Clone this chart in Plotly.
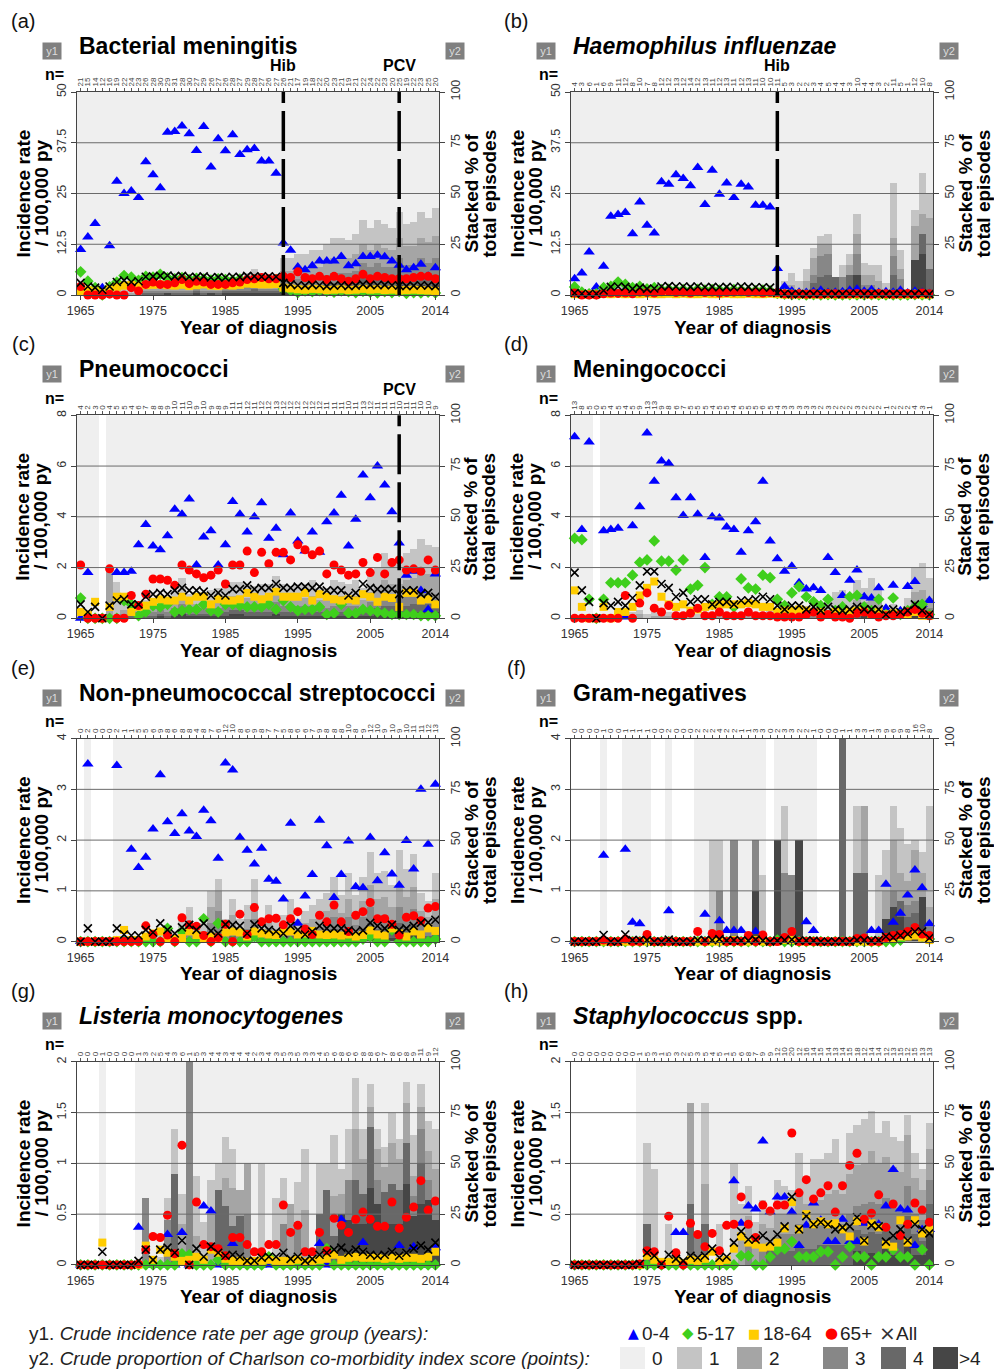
import plotly.graph_objects as go

W, H = 994, 1369
years = list(range(1965, 2015))

# ---------------- (a) Bacterial meningitis ----------------
n_a = [21,15,14,12,16,19,22,24,23,26, 28,30,29,31,28,30,27,29,26,27,
       26,28,27,29,28,27,26,27,26,21, 17,19,18,22,20,23,21,19,21,22,
       24,22,23,20,25,19,22,23,25,20]
a_04 = [11.2,14.3,17.6,1.8,12.1,28.0,25.0,25.6,24.0,32.8, 29.6,26.4,40.1,40.3,41.6,39.7,35.6,41.5,31.5,38.5,
        35.5,39.5,34.6,35.8,36.1,33.0,33.0,30.0,12.8,11.0, 6.9,6.2,7.2,8.4,8.4,8.4,9.5,7.2,7.7,9.5,
        9.5,9.8,9.4,8.4,7.3,6.2,6.7,7.6,4.6,6.7]
a_517 = [5.7,3.4,1.8,0.0,2.0,3.2,4.8,4.4,3.6,4.6, 4.4,5.1,4.2,4.0,4.3,3.8,4.1,3.9,3.7,4.0,
         3.8,3.6,3.9,3.5,3.7,3.6,3.4,3.8,1.5,1.2, 0.6,1.0,0.8,1.1,0.9,0.7,1.0,0.8,0.6,0.9,
         0.7,0.5,0.8,0.6,0.9,0.4,0.6,0.5,0.7,0.5]
a_1864 = [1.0,1.2,0.9,0.5,1.4,2.0,2.3,2.5,2.2,2.4, 2.5,2.6,2.4,2.3,2.5,2.2,2.4,2.6,2.3,2.2,
          2.4,2.3,2.5,2.8,2.7,2.6,2.6,2.7,1.8,1.6, 1.4,1.3,1.5,1.4,1.2,1.3,1.4,1.2,1.3,1.5,
          1.3,1.4,1.2,1.3,1.1,1.2,1.3,1.2,1.1,1.0]
a_65 = [2.1,0.0,0.0,0.0,0.2,0.0,0.0,1.8,1.0,2.6, 3.2,2.6,2.6,3.0,3.8,2.8,3.4,3.2,2.6,2.6,
        2.6,3.0,3.2,3.8,4.0,4.3,4.0,4.0,4.6,4.3, 5.7,4.3,4.0,4.6,3.8,4.6,4.0,3.4,4.0,5.1,
        4.0,4.6,4.3,4.0,4.0,4.0,4.3,4.6,4.6,4.0]
a_all = [3.0,2.1,1.8,1.3,2.1,3.2,3.6,3.2,3.4,4.5, 4.6,4.7,4.8,4.6,4.7,4.5,4.4,4.6,4.3,4.4,
         4.3,4.5,4.4,4.7,4.6,4.5,4.6,4.5,3.0,2.6, 2.4,2.3,2.5,2.4,2.2,2.3,2.4,2.2,2.3,2.6,
         2.5,2.4,2.5,2.4,2.3,2.2,2.3,2.4,2.3,2.2]
a_c1 = [2,2,1,0,2,2,1,2,2,2, 2,2,2,3,3,3,3,3,3,3, 3,4,4,4,5,4,4,4,6,6, 7,7,8,8,9,10,10,9,10,12, 11,12,12,11,13,11,12,13,12,14]
a_c2 = [1,1,1,0,1,1,1,1,1,1, 1,2,2,2,2,2,2,2,2,2, 2,2,2,3,3,2,2,3,5,5, 5,5,6,6,6,7,7,7,8,9, 8,9,9,8,10,9,9,10,10,11]
a_c3 = [0,0,0,0,0,0,1,0,1,1, 1,1,1,1,1,1,1,1,1,1, 1,1,1,2,2,1,1,1,3,3, 4,4,4,4,5,5,5,5,5,7, 6,7,6,6,8,6,7,8,7,8]
a_c4 = [0,0,0,0,0,0,0,0,0,1, 1,1,0,1,1,1,1,1,0,1, 1,1,1,1,2,1,1,1,2,2, 2,2,2,2,3,3,3,3,4,5, 4,5,4,4,5,5,4,5,5,5]
a_c5 = [0,0,0,0,0,0,0,0,0,0, 0,0,1,0,0,0,1,0,1,0, 1,1,1,1,1,1,1,1,2,2, 2,2,2,2,2,3,3,3,3,4, 4,4,4,4,5,4,4,5,4,5]

# ---------------- (b) Haemophilus influenzae ----------------
n_b = [4,3,6,1,6,9,11,12,8,10, 7,8,12,12,13,12,14,12,13,11, 12,13,11,12,13,11,10,10,11,5,
       3,2,2,3,4,5,4,4,3,10, 4,4,3,2,11,5,1,12,10,8]
b_04 = [4.0,5.4,10.6,2.0,7.1,19.4,19.8,20.3,15.1,22.9, 17.2,15.3,27.9,27.3,29.6,28.7,26.9,31.4,22.3,30.7,
        24.8,27.6,24.0,27.3,26.6,22.1,22.1,21.7,6.5,2.1, 1.0,0.7,0.6,0.8,1.2,0.6,0.7,0.8,1.2,1.4,
        0.9,1.3,0.6,0.8,0.7,1.2,0.5,0.9,0.6,0.4]
b_517 = [2.0,0.7,0.3,0.3,1.8,2.1,3.2,2.6,1.8,2.1, 1.5,1.8,1.3,1.4,1.2,1.3,1.1,1.4,1.2,1.3,
         1.2,1.1,1.3,1.2,1.0,1.1,1.2,1.0,0.4,0.2, 0.1,0.1,0.0,0.1,0.0,0.1,0.0,0.0,0.1,0.0,
         0.0,0.1,0.0,0.0,0.0,0.0,0.0,0.1,0.0,0.0]
b_1864 = [0.2,0.1,0.2,0.1,0.3,0.2,0.3,0.2,0.3,0.2, 0.3,0.2,0.2,0.3,0.2,0.3,0.2,0.2,0.3,0.2,
          0.2,0.3,0.2,0.2,0.3,0.2,0.2,0.3,0.2,0.1, 0.1,0.1,0.1,0.1,0.1,0.1,0.1,0.1,0.1,0.1,
          0.1,0.1,0.1,0.1,0.1,0.1,0.1,0.1,0.1,0.1]
b_65 = [0.5,0.0,0.0,0.0,0.3,0.5,0.4,0.5,0.3,0.7, 0.6,0.5,0.8,0.9,0.6,0.7,0.5,0.8,0.6,0.7,
        0.5,0.6,0.7,0.8,0.6,0.7,0.5,0.6,0.6,0.3, 0.2,0.3,0.2,0.3,0.2,0.4,0.3,0.2,0.3,0.4,
        0.3,0.2,0.4,0.3,0.2,0.3,0.4,0.2,0.5,0.3]
b_all = [0.5,0.3,0.3,0.3,1.1,2.0,2.1,2.0,1.5,1.8, 1.5,1.6,2.1,2.2,2.1,2.1,2.0,2.1,1.9,2.0,
         1.9,2.0,1.9,2.1,2.0,1.9,1.9,1.8,0.5,0.3, 0.2,0.2,0.2,0.2,0.3,0.2,0.2,0.2,0.3,0.3,
         0.2,0.3,0.2,0.2,0.2,0.3,0.2,0.2,0.3,0.2]
b_c1 = [2,1,2,0,2,2,3,3,2,2, 2,2,2,2,2,2,2,2,2,2, 2,2,2,2,2,2,2,2,2,7, 6,7,6,5,4,5,0,6,5,10, 6,5,8,6,27,9,0,8,20,12]
b_c2 = [1,1,0,0,1,1,2,2,1,1, 1,1,1,1,1,1,1,1,1,1, 1,1,1,1,1,1,1,1,1,0, 5,0,7,8,6,5,0,0,5,10, 5,5,7,0,9,5,0,17,10,25]
b_c3 = [0,0,0,0,0,0,1,1,0,0, 0,0,0,0,1,0,0,0,0,0, 0,0,0,1,0,0,0,0,0,0, 0,0,0,4,10,10,0,9,0,10, 5,5,0,0,9,8,0,0,0,0]
b_c4 = [0,0,0,0,0,0,0,0,0,0, 0,0,0,0,0,0,0,0,0,0, 0,0,0,0,0,0,0,0,0,0, 0,0,0,6,9,10,9,0,10,0, 0,0,0,0,10,0,0,0,10,13]
b_c5 = [0,0,0,0,0,0,0,0,0,0, 0,0,0,0,0,0,0,0,0,0, 0,0,0,0,0,0,0,0,0,0, 0,0,0,0,0,0,0,0,0,10, 0,0,0,0,0,0,0,17,20,0]

# ---------------- (c) Pneumococci ----------------
n_c = [4,2,3,0,4,5,5,4,6,7, 8,8,9,10,11,10,9,10,9,8, 9,11,11,12,11,12,12,13,12,12,
       12,12,12,12,11,11,11,10,11,13, 12,11,11,11,10,11,11,10,10,9]
c_04 = [0.0,1.8,0.0,0.0,0.0,1.8,1.8,1.85,2.9,3.7, 2.85,2.7,3.25,4.3,4.1,4.7,2.1,3.2,3.45,2.1,
        2.9,4.6,4.1,3.4,4.0,4.55,3.15,3.55,2.5,4.15, 3.05,2.65,3.4,2.6,3.8,4.15,4.85,2.85,3.9,5.65,
        4.75,6.0,5.25,4.2,2.97,1.7,1.85,1.1,0.35,1.75]
c_517 = [0.8,0,0,0,0,0,0.7,0.55,0.1,0.25, 0.5,0.45,0.55,0.25,0.3,0.35,0.35,0.55,0.3,0.25,
         0.55,0.55,0.5,0.45,0.45,0.45,0.55,0.35,0.7,0.45, 0.3,0.35,0.35,0.45,0.15,0.2,0.55,0.2,0.2,0.35,
         0.3,0.25,0.2,0.15,0.15,0.15,0.15,0.1,0.1,0.1]
c_1864 = [0.25,0.15,0.65,0.0,0.45,0.85,0.85,0.25,0.45,0.5, 0.65,0.75,0.7,0.7,0.85,0.7,0.85,0.85,0.55,0.75,
          0.7,0.7,0.75,1.0,0.85,0.75,0.85,1.05,0.85,0.85, 0.85,1.0,0.7,0.95,0.85,0.75,0.7,0.75,0.7,0.95,
          0.85,0.65,0.85,0.8,0.45,1.0,1.0,0.7,0.75,0.55]
c_65 = [2.1,0,0,0,1.95,0,0,0.9,0.5,0.95, 1.55,1.55,1.5,1.3,2.1,1.9,1.75,1.6,1.7,1.9,
        1.35,2.1,2.1,2.65,1.8,2.6,2.15,2.6,2.6,2.3, 2.9,2.7,2.5,2.65,1.75,2.1,1.9,1.7,1.75,2.2,
        1.8,2.4,1.75,2.2,2.3,1.9,1.95,1.85,2.3,1.9]
c_all = [0.55,0.25,0.45,0.0,0.5,0.7,0.75,0.55,0.55,0.85, 0.95,1.0,0.95,1.1,1.2,1.1,1.1,1.05,0.9,1.0,
         0.9,1.15,1.15,1.3,1.15,1.2,1.2,1.35,1.2,1.2, 1.25,1.25,1.2,1.25,1.1,1.1,1.1,0.9,1.0,1.35,
         1.2,1.15,1.15,1.15,0.95,1.1,1.1,0.95,1.0,0.85]
c_c1 = [3,0,0,0,0,18,3,3,3,4, 4,4,4,6,8,5,5,5,6,6, 8,7,7,7,6,7,7,8,7,6, 7,7,8,6,6,8,7,7,8,6, 9,10,13,11,11,13,14,16,14,14]
c_c2 = [0,0,0,0,25,0,2,2,2,2, 3,3,3,3,5,3,3,3,3,4, 5,4,4,4,4,4,4,5,4,4, 4,4,5,4,4,5,5,4,5,4, 5,6,8,7,7,8,8,10,9,9]
c_c3 = [0,0,0,0,0,0,1,1,2,2, 2,2,2,3,3,2,2,3,3,3, 3,3,3,3,3,3,3,4,3,3, 3,3,3,2,2,3,3,3,3,2, 4,4,5,4,4,5,5,6,6,5]
c_c4 = [0,0,0,0,0,0,1,1,1,1, 1,1,1,1,2,1,1,1,1,1, 2,2,2,2,2,2,2,2,2,2, 2,2,2,2,2,2,2,2,2,2, 3,3,4,3,3,3,4,4,4,4]
c_c5 = [0,0,0,0,0,0,0,0,0,0, 0,1,0,1,2,1,1,1,1,1, 1,2,2,1,1,1,1,2,1,1, 1,1,1,1,1,1,1,1,1,1, 1,2,2,3,3,3,3,3,3,3]

# ---------------- (d) Meningococci ----------------
n_d = [13,8,5,0,5,4,5,4,5,9, 13,13,9,8,6,7,5,5,5,4, 5,5,4,5,5,5,6,5,4,3,
       3,3,3,3,2,3,2,2,2,3, 2,2,2,1,2,2,2,4,3,1]
d_04 = [7.15,3.5,6.95,0.0,3.45,3.5,3.55,0.05,3.65,4.4, 7.3,5.4,6.2,6.1,4.75,4.05,4.75,4.1,2.4,4.0,
        3.95,3.6,3.5,2.6,3.45,3.8,5.4,3.05,2.35,1.85, 2.05,1.4,1.15,1.2,1.1,2.4,1.8,0.9,1.5,1.9,
        0.85,0.8,1.2,0.4,1.3,0.3,1.25,1.45,0.55,0.7]
d_517 = [3.15,3.1,0.75,0.0,0.75,1.4,1.4,1.4,1.7,2.2, 2.3,3.05,2.25,2.25,1.9,2.3,1.15,1.3,2.0,0.55,
         0.85,0.85,0.45,1.55,1.2,1.15,1.7,1.6,0.75,0.5, 1.0,1.25,0.85,0.65,0.5,0.75,0.3,0.45,0.85,0.9,
         0.45,0.3,0.75,0.15,0.8,0.15,0.3,0.45,0.55,0.15]
d_1864 = [1.1,0.45,0.0,0.0,0.45,0.0,0.25,0.25,0.45,0.9, 1.2,1.45,0.85,0.55,0.45,0.55,0.3,0.35,0.45,0.5,
          0.55,0.55,0.55,0.55,0.6,0.55,0.45,0.45,0.25,0.3, 0.3,0.35,0.3,0.25,0.25,0.15,0.25,0.15,0.25,0.3,
          0.25,0.15,0.25,0.15,0.2,0.15,0.15,0.25,0.1,0.1]
d_65 = [0,0,0,0,0,0,0,0.9,0,0.6, 1.0,0.4,0.25,0.5,0.1,0.1,0.2,0.4,0.1,0.1,
        0.25,0.1,0.1,0.1,0.25,0.1,0.1,0.1,0.05,0.05, 0.05,0.05,0.15,0.25,0.05,0.15,0.05,0.05,0.0,0.2,
        0.25,0.15,0.05,0.1,0.1,0.15,0.25,0.35,0.2,0.1]
d_all = [1.8,1.1,0.65,0.0,0.6,0.5,0.65,0.5,0.8,1.3, 1.85,1.85,1.35,1.2,0.85,1.0,0.65,0.75,0.75,0.55,
         0.65,0.65,0.55,0.7,0.7,0.75,0.85,0.75,0.5,0.35, 0.5,0.5,0.35,0.45,0.3,0.45,0.35,0.3,0.35,0.45,
         0.35,0.35,0.35,0.15,0.35,0.25,0.3,0.55,0.3,0.15]
d_c1 = [0,0,0,0,0,0,0,3,3,2, 2,2,3,2,2,2,2,2,2,2, 2,2,2,2,2,2,2,2,2,2, 2,3,3,3,3,4,7,7,5,10, 7,10,7,3,4,2,5,12,13,10]
d_c2 = [0,0,0,0,0,0,0,0,0,2, 0,1,2,1,0,0,0,0,1,0, 1,0,0,1,1,1,1,1,1,1, 1,1,2,1,2,2,3,4,3,5, 4,5,4,2,2,2,3,7,7,5]
d_c3 = [0,0,0,0,0,0,0,0,0,0, 0,0,0,0,0,0,0,0,0,0, 0,0,0,0,0,0,0,1,0,1, 1,1,1,1,1,1,2,2,1,3, 2,3,2,0,1,0,1,3,4,3]
d_c4 = [0,0,0,0,0,0,0,0,0,0, 0,0,0,0,0,0,0,0,0,0, 0,0,0,0,0,0,0,0,0,0, 0,0,0,0,0,1,1,1,1,1, 1,1,1,0,0,0,1,2,2,1]
d_c5 = [0,0,0,0,0,0,0,0,0,0, 0,0,0,0,0,0,0,0,0,0, 0,0,0,0,0,0,0,0,0,0, 0,0,0,0,0,0,0,0,0,0, 1,1,1,0,0,0,0,1,1,1]

# ---------------- (e) Non-pneumococcal streptococci ----------------
n_e = [0,2,0,0,0,2,1,1,5,5, 6,9,8,6,8,8,4,8,7,6, 12,10,8,6,9,8,7,7,5,8,
       6,6,7,9,8,8,8,10,8,9, 12,10,9,10,9,10,11,11,12,13]
e_04 = [0,3.5,0,0,0,3.47,0.05,1.82,1.46,1.66, 2.22,3.29,2.36,2.13,2.52,2.18,2.07,2.59,2.38,1.64,
        3.52,3.38,2.05,1.8,1.53,1.84,1.23,1.19,0.84,2.33, 0.36,0.9,1.32,2.39,1.89,0.87,1.32,1.98,1.08,1.06,
        2.05,1.2,1.75,1.33,1.11,1.99,1.43,3.0,1.92,3.1]
e_517 = [0,0,0,0,0,0,0,0,0,0, 0,0,0.26,0,0.2,0,0,0.45,0,0.36,
         0,0,0,0,0.1,0,0,0,0,0, 0,0,0,0,0,0,0,0,0,0.05,
         0.1,0,0,0.23,0,0,0,0,0,0.05]
e_1864 = [0,0,0,0,0,0.03,0.23,0.03,0.03,0.1, 0.16,0.2,0.07,0.05,0.07,0.2,0.13,0.07,0.1,0.05,
          0.18,0.2,0.18,0.1,0.2,0.16,0.14,0.13,0.2,0.2, 0.14,0.16,0.21,0.14,0.13,0.14,0.12,0.14,0.1,0.13,
          0.22,0.14,0.12,0.26,0.16,0.1,0.2,0.14,0.26,0.21]
e_65 = [0,0,0,0,0,0,0,0,0,0.31, 0.14,0,0.13,0,0.47,0.33,0.3,0.12,0,0.08,
        0.34,0,0.54,0.14,0.67,0.39,0.45,0.46,0.33,0.45, 0.59,0.25,0.14,0.52,0.39,0.72,0.39,0.2,0.52,0.59,
        0.77,0.45,0.45,0.34,0.13,0.48,0.51,0.41,0.66,0.69]
e_all = [0,0.26,0,0,0,0.26,0.14,0.12,0.12,0.23, 0.18,0.36,0.23,0.16,0.28,0.33,0.23,0.36,0.21,0.16,
         0.34,0.33,0.31,0.16,0.34,0.26,0.23,0.2,0.16,0.31, 0.23,0.14,0.2,0.31,0.26,0.26,0.26,0.22,0.2,0.22,
         0.37,0.31,0.26,0.33,0.23,0.26,0.31,0.37,0.38,0.43]
e_c1 = [0,0,0,0,0,0,0,0,2,2, 3,3,4,3,5,7,4,4,8,6, 5,8,5,7,12,5,7,5,5,8, 5,6,7,8,9,12,9,13,9,12, 16,13,13,11,17,14,16,9,8,13]
e_c2 = [0,0,0,0,0,0,0,0,0,2, 2,2,2,2,3,5,3,3,8,10, 3,6,3,5,8,3,5,3,4,6, 3,4,5,6,6,8,6,9,6,8, 11,9,9,7,11,9,11,6,5,9]
e_c3 = [0,0,0,0,0,0,0,0,0,0, 0,0,2,0,3,3,0,2,5,10, 3,4,3,3,6,3,3,3,2,4, 2,3,3,4,5,6,4,6,4,6, 8,6,6,5,8,6,8,4,4,6]
e_c4 = [0,0,0,0,0,0,0,0,0,0, 0,0,0,0,0,2,0,0,4,5, 0,3,0,3,5,0,3,0,2,3, 1,2,3,3,4,4,4,4,4,4, 5,3,4,3,5,4,4,5,3,4]
e_c5 = [0,0,0,0,0,0,0,0,0,0, 0,0,0,0,0,0,0,0,0,0, 0,0,0,0,0,0,0,0,0,0, 0,0,0,0,0,2,0,2,0,2, 4,3,3,2,4,3,4,0,0,2]

# ---------------- (f) Gram-negatives ----------------
n_f = [0,0,0,0,1,0,0,1,1,1, 1,0,0,2,0,0,0,2,2,2, 4,2,2,1,1,3,3,0,2,3,
       3,2,2,1,0,0,0,1,1,3, 3,1,3,9,6,9,8,16,10,8]
f_04 = [0,0,0,0,1.7,0,0,1.82,0.38,0.35, 0,0,0,0.61,0,0,0,0,0.54,0,
        0.41,0.22,0.22,0.22,0,0.2,0,0,0,0, 0,0,0.39,0.22,0,0,0,0,0,0,
        0,0.22,0.22,1.13,0.38,0.56,0.92,1.41,1.06,0.35]
f_517 = [0,0,0,0,0,0,0,0,0,0, 0,0,0,0,0,0,0,0,0,0, 0,0,0,0,0,0,0,0,0.03,0,
         0,0,0,0,0,0,0,0,0,0, 0,0,0,0,0,0.03,0.15,0.16,0.1,0.05]
f_1864 = [0,0,0,0,0,0,0,0,0,0, 0,0,0,0,0,0,0,0,0,0, 0,0,0.03,0,0,0.03,0,0,0,0.03,
          0.03,0,0,0,0,0,0,0,0,0, 0,0,0,0.05,0.05,0.1,0.1,0.12,0.08,0.03]
f_65 = [0,0,0,0,0.03,0,0,0.05,0,0, 0.14,0,0,0,0,0,0,0.2,0,0.16,
        0.14,0,0,0,0.12,0,0.13,0,0,0.08, 0.2,0,0,0,0,0,0,0,0,0.06,
        0.07,0,0,0.08,0.12,0.14,0.2,0.28,0.15,0.12]
f_all = [0,0,0,0,0.13,0,0,0.14,0.03,0.03, 0.03,0,0,0.04,0,0,0,0.03,0.03,0.03,
         0.05,0.02,0.03,0.02,0.02,0.04,0.02,0,0.02,0.03, 0.04,0.02,0.02,0.02,0,0,0,0.01,0,0.03,
         0.03,0.02,0.03,0.1,0.08,0.12,0.15,0.2,0.2,0.07]
f_c1 = [0,0,0,0,0,0,0,0,0,0, 0,0,0,0,0,0,0,0,0,50, 25,0,0,0,0,0,33,0,0,33, 0,0,0,0,0,0,0,0,0,33, 0,0,33,20,17,22,18,5,10,50]
f_c2 = [0,0,0,0,0,0,0,0,0,0, 0,0,0,0,0,0,0,0,0,0, 0,0,0,0,0,0,0,0,0,0, 0,0,0,0,0,0,0,0,0,0, 33,0,0,14,25,14,12,25,12,10]
f_c3 = [0,0,0,0,0,0,0,0,0,0, 0,0,0,0,0,0,0,0,0,0, 25,0,50,0,0,25,0,0,0,34, 33,0,0,0,0,0,0,0,0,0, 0,0,0,0,8,0,6,6,0,7]
f_c4 = [0,0,0,0,0,0,0,0,0,0, 0,0,0,0,0,0,0,0,0,0, 0,0,0,0,0,0,0,0,0,0, 0,0,0,0,0,0,0,100,0,34, 34,0,0,0,0,8,6,6,0,0]
f_c5 = [0,0,0,0,0,0,0,0,0,0, 0,0,0,0,0,0,0,0,0,0, 0,0,0,0,0,25,0,0,50,0, 0,50,0,0,0,0,0,0,0,0, 0,0,0,11,17,12,6,8,22,0]

# ---------------- (g) Listeria monocytogenes ----------------
n_g = [0,0,0,1,0,0,0,0,1,3, 2,5,4,3,6,1,5,3,4,4, 3,4,4,4,2,3,4,3,5,3,
       5,3,3,4,5,6,8,6,6,8, 8,6,7,8,6,8,9,11,9,12]
g_04 = [0,0,0,0,0,0,0,0,0.37,0, 0,0,0.3,0,0.32,0,0,0.58,0.53,0,
        0,0.21,0,0,0,0,0,0,0,0, 0,0,0,0.21,0,0,0.45,0,0,0.22,
        0,0,0,0,0.19,0,0.18,0,0,0.17]
g_517 = [0,0,0,0,0,0,0,0,0,0, 0,0,0,0,0.11,0.1,0,0,0,0.05,
         0,0,0,0,0,0,0.08,0,0,0, 0,0,0,0,0.16,0,0,0,0,0,
         0,0,0,0,0,0,0,0,0,0]
g_1864 = [0,0,0,0.22,0,0,0,0,0,0.19, 0.05,0.15,0.12,0.08,0.04,0.05,0.08,0.05,0.15,0.12,
          0.06,0.04,0.04,0.03,0.04,0.04,0.05,0.04,0.04,0.04, 0.05,0.03,0.04,0.05,0.06,0.1,0.05,0.07,0.08,0.07,
          0.07,0.07,0.06,0.07,0.06,0.07,0.07,0.06,0.08,0.13]
g_65 = [0,0,0,0,0,0,0,0,0.01,0.15, 0.28,0.27,0.49,0.11,1.18,0,0.62,0.2,0.18,0.16,
        0.09,0.27,0.27,0.2,0.13,0.13,0.2,0.2,0.59,0.32, 0.39,0.13,0.13,0.32,0.14,0.46,0.39,0.32,0.45,0.52,
        0.45,0.38,0.38,0.62,0.36,0.47,0.57,0.83,0.54,0.63]
g_all = [0,0,0,0.13,0,0,0,0,0.04,0.15, 0.05,0.15,0.17,0.12,0.24,0,0.16,0.08,0.18,0.12,
         0.09,0.1,0.08,0.04,0.04,0.07,0.08,0.08,0.12,0.06, 0.08,0.04,0.06,0.1,0.12,0.15,0.17,0.12,0.15,0.13,
         0.1,0.09,0.1,0.13,0.09,0.12,0.16,0.19,0.15,0.22]
g_c1 = [0,0,0,0,0,0,0,0,0,0, 0,4,11,22,15,0,30,21,17,13, 20,19,0,0,0,50,0,33,23,0, 20,30,0,25,13,30,12,25,25,15, 11,10,10,15,10,10,20,11,15,20]
g_c2 = [0,0,0,0,0,0,0,0,0,0, 0,0,0,0,20,0,14,0,25,0, 14,19,13,25,0,0,0,0,0,30, 0,27,0,0,0,20,10,0,25,17, 10,15,12,20,15,20,10,11,14,15]
g_c3 = [0,0,0,0,0,0,0,0,0,33, 0,0,22,0,0,100,0,0,0,0, 0,0,0,25,0,0,0,0,20,0, 21,0,0,0,0,0,0,20,0,0, 0,12,0,0,0,0,10,17,10,10]
g_c4 = [0,0,0,0,0,0,0,0,0,0, 0,0,0,45,0,0,0,0,0,37, 29,19,24,0,0,0,0,0,0,0, 0,0,0,25,37,14,0,0,22,15, 30,0,16,20,17,20,0,20,0,0]
g_c5 = [0,0,0,0,0,0,0,0,0,0, 0,0,0,0,0,0,0,0,0,0, 0,0,0,0,0,0,0,0,0,0, 0,0,0,0,0,0,25,22,20,20, 38,30,20,20,20,40,24,30,32,22]

# ---------------- (h) Staphylococcus spp. ----------------
n_h = [0,0,0,0,0,0,0,0,0,1, 5,3,1,5,3,2,5,3,5,4, 5,1,5,6,8,7,9,9,12,10,
       20,12,16,14,15,14,13,14,15,18, 12,14,14,12,13,15,12,15,13,13]
h_04 = [0,0,0,0,0,0,0,0,0,0, 0,0,0,0,0.32,0.32,0,0,0,0,
        0,0,0.83,0.41,0.58,0.55,1.22,0.52,0.67,0.67, 0.52,0.19,0.39,0.61,0.44,0.23,0.23,0.45,0.23,0.23,
        0.41,0.41,0.4,0.58,0.94,0.55,0.54,0.19,0.35,0.35]
h_517 = [0,0,0,0,0,0,0,0,0,0, 0,0,0,0,0,0,0,0,0,0,
         0,0,0,0.09,0.09,0,0,0.08,0.15,0.16, 0.23,0.08,0.08,0.08,0.13,0.13,0,0.08,0.18,0.08,
         0.08,0,0.08,0.08,0.15,0.08,0.08,0,0.15,0]
h_1864 = [0,0,0,0,0,0,0,0,0,0, 0.09,0.05,0.03,0.03,0.04,0.02,0.05,0.04,0.06,0.13,
          0.03,0.05,0.16,0.28,0.22,0.2,0.17,0.18,0.22,0.36, 0.62,0.35,0.5,0.4,0.43,0.4,0.41,0.35,0.28,0.43,
          0.23,0.41,0.37,0.2,0.18,0.44,0.22,0.44,0.31,0.35]
h_65 = [0,0,0,0,0,0,0,0,0,0.01, 0.14,0.13,0,0.48,0.12,0,0.41,0.3,0.18,0.31,
        0.14,0.39,0.4,0.67,0.4,0.27,0.59,0.53,0.59,0.59, 1.3,0.71,0.84,0.65,0.71,0.78,0.52,0.78,0.98,1.1,
        0.45,0.51,0.69,0.37,0.6,0.29,0.4,0.61,0.54,0.42]
h_all = [0,0,0,0,0,0,0,0,0,0.01, 0.12,0.09,0.01,0.1,0.06,0.04,0.09,0.07,0.09,0.16,
         0.07,0.08,0.22,0.33,0.25,0.25,0.29,0.23,0.3,0.38, 0.67,0.35,0.48,0.4,0.42,0.4,0.35,0.37,0.38,0.47,
         0.24,0.39,0.38,0.23,0.29,0.35,0.24,0.4,0.35,0.31]
h_c1 = [0,0,0,0,0,0,0,0,0,0, 40,47,0,20,0,0,0,0,40,0, 20,0,50,15,15,11,12,10,17,14, 12,20,14,22,20,20,25,15,20,20, 22,20,15,18,15,15,10,12,10,13]
h_c2 = [0,0,0,0,0,0,0,0,0,0, 0,0,0,0,0,0,50,0,20,0, 0,0,0,15,14,10,10,10,10,10, 10,15,12,12,12,15,15,15,20,20, 20,25,20,20,20,20,25,18,15,15]
h_c3 = [0,0,0,0,0,0,0,0,0,0, 0,0,0,0,0,0,0,14,0,0, 0,0,0,0,10,0,10,0,8,8, 8,10,10,10,10,10,12,10,15,12, 15,15,15,15,13,13,15,10,10,12]
h_c4 = [0,0,0,0,0,0,0,0,0,0, 20,0,0,0,0,0,30,0,20,0, 0,0,0,0,0,0,0,8,7,7, 7,10,8,8,10,10,10,10,10,10, 10,10,10,10,10,8,14,10,7,15]
h_c5 = [0,0,0,0,0,0,0,0,0,0, 0,0,0,0,0,0,0,0,0,0, 0,0,0,0,0,0,0,0,0,0, 0,0,0,0,0,0,0,0,0,7, 5,6,5,8,5,5,10,5,5,15]

# ---------------- panel configuration ----------------
age_labels = ['0-4', '5-17', '18-64', '65+', 'All']
cci_labels = ['0', '1', '2', '3', '4', '>4']
vaccines_a = [(1993, 'Hib'), (2009, 'PCV')]
vaccines_b = [(1993, 'Hib')]
vaccines_c = [(2009, 'PCV')]

panels = [
    dict(tag='(a)', title='<b>Bacterial meningitis</b>', ymax=50, yt=[0, 12.5, 25, 37.5, 50],
         yl=['0', '12.5', '25', '37.5', '50'], vac=vaccines_a, n=n_a,
         rates=[a_04, a_517, a_1864, a_65, a_all], cci=[a_c1, a_c2, a_c3, a_c4, a_c5]),
    dict(tag='(b)', title='<b><i>Haemophilus influenzae</i></b>', ymax=50, yt=[0, 12.5, 25, 37.5, 50],
         yl=['0', '12.5', '25', '37.5', '50'], vac=vaccines_b, n=n_b,
         rates=[b_04, b_517, b_1864, b_65, b_all], cci=[b_c1, b_c2, b_c3, b_c4, b_c5]),
    dict(tag='(c)', title='<b>Pneumococci</b>', ymax=8, yt=[0, 2, 4, 6, 8],
         yl=['0', '2', '4', '6', '8'], vac=vaccines_c, n=n_c,
         rates=[c_04, c_517, c_1864, c_65, c_all], cci=[c_c1, c_c2, c_c3, c_c4, c_c5]),
    dict(tag='(d)', title='<b>Meningococci</b>', ymax=8, yt=[0, 2, 4, 6, 8],
         yl=['0', '2', '4', '6', '8'], vac=[], n=n_d,
         rates=[d_04, d_517, d_1864, d_65, d_all], cci=[d_c1, d_c2, d_c3, d_c4, d_c5]),
    dict(tag='(e)', title='<b>Non-pneumococcal streptococci</b>', ymax=4, yt=[0, 1, 2, 3, 4],
         yl=['0', '1', '2', '3', '4'], vac=[], n=n_e,
         rates=[e_04, e_517, e_1864, e_65, e_all], cci=[e_c1, e_c2, e_c3, e_c4, e_c5]),
    dict(tag='(f)', title='<b>Gram-negatives</b>', ymax=4, yt=[0, 1, 2, 3, 4],
         yl=['0', '1', '2', '3', '4'], vac=[], n=n_f,
         rates=[f_04, f_517, f_1864, f_65, f_all], cci=[f_c1, f_c2, f_c3, f_c4, f_c5]),
    dict(tag='(g)', title='<b><i>Listeria monocytogenes</i></b>', ymax=2, yt=[0, 0.5, 1, 1.5, 2],
         yl=['0', '0.5', '1', '1.5', '2'], vac=[], n=n_g,
         rates=[g_04, g_517, g_1864, g_65, g_all], cci=[g_c1, g_c2, g_c3, g_c4, g_c5]),
    dict(tag='(h)', title='<b><i>Staphylococcus</i> spp.</b>', ymax=2, yt=[0, 0.5, 1, 1.5, 2],
         yl=['0', '0.5', '1', '1.5', '2'], vac=[], n=n_h,
         rates=[h_04, h_517, h_1864, h_65, h_all], cci=[h_c1, h_c2, h_c3, h_c4, h_c5]),
]

for p in panels:
    for arr in [p['n']] + p['rates'] + p['cci']:
        if len(arr) != 50:
            raise ValueError(p['tag'] + ' length ' + str(len(arr)))

age_colors = ['#0000FF', '#3FCF1C', '#FFCC00', '#FF0000', '#000000']
age_symbols = ['triangle-up', 'diamond', 'square', 'circle', 'x-thin']
age_sizes = [10, 9, 8, 9, 8]
cci_colors = ['#EFEFEF', '#C4C4C4', '#A5A5A5', '#878787', '#686868', '#464646']

FONT = 'Liberation Sans, Arial, Helvetica, sans-serif'
AX = '#444444'


def px(x):
    return x / W


def py(y):
    return 1 - y / H


def nm(k):
    return '' if k == 1 else str(k)


fig = go.Figure()
layout = dict(width=W, height=H, margin=dict(l=0, r=0, t=0, b=0, autoexpand=False),
              paper_bgcolor='white', plot_bgcolor='white', showlegend=False,
              barmode='stack', bargap=0, font=dict(family=FONT, color='#222222'))
shapes = []
ann = []

for i, p in enumerate(panels):
    col, row = i % 2, i // 2
    L = 77 if col == 0 else 571
    R = 439 if col == 0 else 933
    T = 92 + 323.3 * row
    B = T + 203
    bx, ox = 2 * i + 1, 2 * i + 2
    xb, xo, yb, yo = 'x' + nm(bx), 'x' + nm(ox), 'y' + nm(bx), 'y' + nm(ox)

    layout['xaxis' + nm(bx)] = dict(
        domain=[px(L), px(R)], anchor=yb, range=[1964.5, 2014.5],
        tickvals=[1965, 1975, 1985, 1995, 2005, 2014], ticks='outside', ticklen=4,
        tickcolor=AX, showline=True, linecolor=AX, linewidth=1, showgrid=False,
        zeroline=False, tickfont=dict(size=12.5, color='#333333'), fixedrange=True,
        automargin=False)
    layout['xaxis' + nm(ox)] = dict(
        overlaying=xb, side='top', anchor=yo, range=[1964.5, 2014.5],
        tickvals=years, ticktext=[str(v) for v in p['n']], tickangle=-90,
        ticks='outside', ticklen=3, tickcolor='#555555', showline=True, linecolor=AX,
        showgrid=False, zeroline=False, tickfont=dict(size=8, color='#444444'),
        fixedrange=True, automargin=False)
    layout['yaxis' + nm(bx)] = dict(
        domain=[py(B), py(T)], anchor=xb, side='right', range=[0, 100],
        tickvals=[0, 25, 50, 75, 100], tickangle=-90, ticks='outside', ticklen=5,
        tickcolor=AX, showline=True, linecolor=AX, showgrid=False, zeroline=False,
        tickfont=dict(size=12.5, color='#333333'), fixedrange=True, automargin=False)
    layout['yaxis' + nm(ox)] = dict(
        overlaying=yb, side='left', anchor=xo, range=[0, p['ymax']],
        tickvals=p['yt'], ticktext=p['yl'], tickangle=-90, ticks='outside', ticklen=5,
        tickcolor=AX, showline=True, linecolor=AX, showgrid=False, zeroline=False,
        tickfont=dict(size=12.5, color='#333333'), fixedrange=True, automargin=False)

    # stacked Charlson bars: >4 at bottom ... 0 on top
    tot = [sum(v) for v in zip(*p['cci'])]
    c0 = [100 - t if n > 0 else 0 for t, n in zip(tot, p['n'])]
    stack = list(zip(p['cci'], cci_colors[1:]))[::-1] + [(c0, cci_colors[0])]
    for vals, colr in stack:
        fig.add_trace(go.Bar(x=years, y=vals, xaxis=xb, yaxis=yb, width=1,
                             marker=dict(color=colr, line=dict(width=0)), hoverinfo='skip'))

    # age-group incidence markers
    for vals, colr, sym, sz in zip(p['rates'], age_colors, age_symbols, age_sizes):
        mk = dict(symbol=sym, size=sz, color=colr)
        mk['line'] = dict(width=1.6, color=colr) if sym == 'x-thin' else dict(width=0)
        fig.add_trace(go.Scatter(x=years, y=vals, mode='markers', marker=mk,
                                 xaxis=xo, yaxis=yo, cliponaxis=False, hoverinfo='skip'))

    for g in (25, 50, 75):
        shapes.append(dict(type='line', xref=xb + ' domain', x0=0, x1=1, yref=yb, y0=g, y1=g,
                           line=dict(color='#6a6a6a', width=1), layer='above'))
    for yr, lab in p['vac']:
        shapes.append(dict(type='line', xref=xb, x0=yr, x1=yr, yref=yb + ' domain', y0=0, y1=1,
                           line=dict(color='black', width=3.5, dash='40px,8px'), layer='above'))
        ann.append(dict(xref=xb, x=yr, yref='paper', y=py(T - 26), text='<b>' + lab + '</b>',
                        showarrow=False, font=dict(size=16, color='black'),
                        xanchor='center', yanchor='middle'))

    ann.append(dict(xref='paper', yref='paper', x=px(23 if col == 0 else 516), y=py(T - 71),
                    text=p['tag'], showarrow=False, font=dict(size=20, color='#111111'),
                    xanchor='center', yanchor='middle'))
    ann.append(dict(xref='paper', yref='paper', x=px(L), y=py(T - 46), text=p['title'],
                    showarrow=False, font=dict(size=23, color='black'),
                    xanchor='left', yanchor='middle'))
    for bxpos, lab in ((L - 25, 'y1'), (R + 16, 'y2')):
        ann.append(dict(xref='paper', yref='paper', x=px(bxpos), y=py(T - 41), text=lab,
                        showarrow=False, font=dict(size=11, color='#DDDDDD'),
                        bgcolor='#808080', width=16, height=14, borderpad=1,
                        xanchor='center', yanchor='middle'))
    ann.append(dict(xref='paper', yref='paper', x=px(L - 23), y=py(T - 17), text='<b>n=</b>',
                    showarrow=False, font=dict(size=16, color='black'),
                    xanchor='center', yanchor='middle'))
    for xoff, txt in ((-54, 'Incidence rate'), (-36, '/ 100,000 py')):
        ann.append(dict(xref='paper', yref='paper', x=px(L + xoff), y=py((T + B) / 2),
                        text='<b>' + txt + '</b>', textangle=-90, showarrow=False,
                        font=dict(size=19, color='black'), xanchor='center', yanchor='middle'))
    for xoff, txt in ((32, 'Stacked % of'), (50, 'total episodes')):
        ann.append(dict(xref='paper', yref='paper', x=px(R + xoff), y=py((T + B) / 2),
                        text='<b>' + txt + '</b>', textangle=-90, showarrow=False,
                        font=dict(size=19, color='black'), xanchor='center', yanchor='middle'))
    ann.append(dict(xref='paper', yref='paper', x=px((L + R) / 2), y=py(T + 235),
                    text='<b>Year of diagnosis</b>', showarrow=False,
                    font=dict(size=19, color='black'), xanchor='center', yanchor='middle'))

# ---------------- bottom legend ----------------
LEG = 19
ann.append(dict(xref='paper', yref='paper', x=px(27), y=py(1333),
                text='y1. <i>Crude incidence rate per age group (years):</i>', showarrow=False,
                font=dict(size=LEG, color='#222222'), xanchor='left', yanchor='middle'))
ann.append(dict(xref='paper', yref='paper', x=px(27), y=py(1358),
                text='y2. <i>Crude proportion of Charlson co-morbidity index score (points):</i>',
                showarrow=False, font=dict(size=LEG, color='#222222'), xanchor='left', yanchor='middle'))
sym_chars = ['\u25B2', '\u25C6', '\u25A0', '\u25CF', '\u00D7']
sym_sizes = [14, 15, 13, 15, 20]
sym_x = [633, 688, 754, 831, 887]
for sx, ch, colr, ss, lab in zip(sym_x, sym_chars, age_colors, sym_sizes, age_labels):
    ann.append(dict(xref='paper', yref='paper', x=px(sx), y=py(1333), text=ch, showarrow=False,
                    font=dict(size=ss, color=colr if colr != '#000000' else '#333333',
                              family='DejaVu Sans'),
                    xanchor='center', yanchor='middle'))
    ann.append(dict(xref='paper', yref='paper', x=px(sx + 7), y=py(1333), text=lab, showarrow=False,
                    font=dict(size=LEG, color='#222222'), xanchor='left', yanchor='middle'))
box_x = [620, 677, 737, 823, 881, 933]
for bxl, colr, lab in zip(box_x, cci_colors, cci_labels):
    shapes.append(dict(type='rect', xref='paper', yref='paper', x0=px(bxl), x1=px(bxl + 25),
                       y0=py(1369), y1=py(1347), fillcolor=colr, line=dict(width=0)))
    ann.append(dict(xref='paper', yref='paper', x=px(bxl + 30 if lab != '>4' else bxl + 24),
                    y=py(1358), text=lab, showarrow=False,
                    font=dict(size=LEG, color='#222222'), xanchor='left', yanchor='middle'))

layout['shapes'] = shapes
layout['annotations'] = ann
fig.update_layout(**layout)
fig.write_html('out.html', config={'displayModeBar': False, 'staticPlot': True},
               post_script="document.body.style.margin='0px';document.body.style.padding='0px';"
                           "document.documentElement.style.overflow='hidden';")
